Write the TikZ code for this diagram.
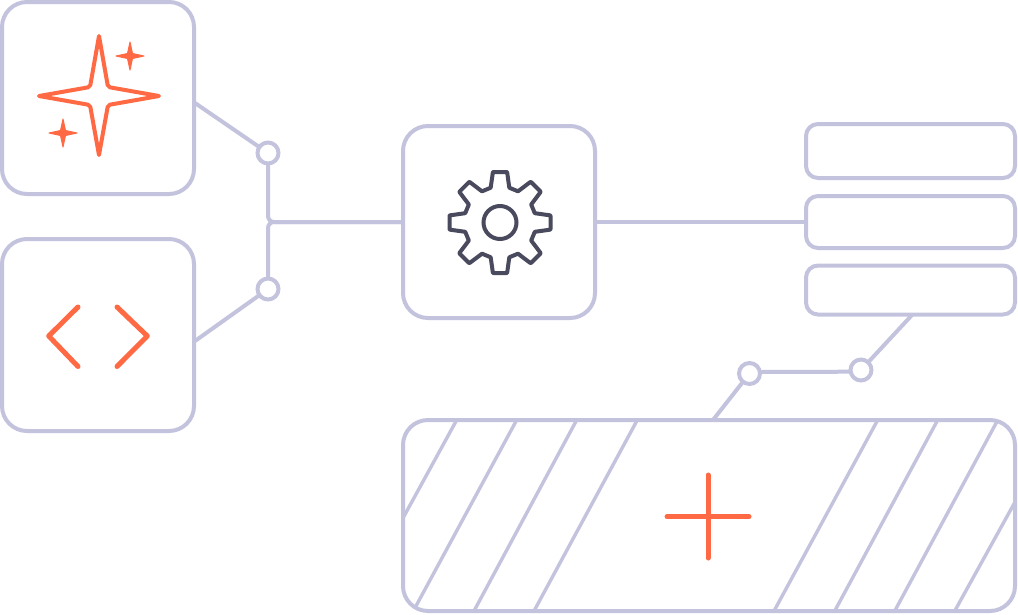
\documentclass[tikz,border=0pt]{standalone}
\definecolor{linecol}{HTML}{C3C3DE}
\definecolor{sparkcol}{HTML}{FF6A45}
\definecolor{gearcol}{HTML}{4A4A5E}
\tikzset{
    panel/.style={draw=linecol, line width=4pt, rounded corners=25pt, inner sep=0, outer sep=0, minimum width=192pt, minimum height=192pt},
    slot/.style={draw=linecol, line width=4pt, rounded corners=12pt, inner sep=0, outer sep=0, minimum width=209pt},
    dot/.style={circle, draw=linecol, line width=4pt, fill=white, inner sep=0, outer sep=0, minimum size=21pt},
    link/.style={draw=linecol, line width=4pt},
    hatch/.style={draw=linecol, line width=3.4pt},
    icon/.style={draw=sparkcol, line width=4pt, line join=round, line cap=round},
    iconthick/.style={draw=sparkcol, line width=5pt, line join=round, line cap=round},
}

\begin{document}
\begin{tikzpicture}[x=1pt, y=-1pt]
\useasboundingbox (0,0) rectangle (1018,614);

\node[panel] (sparkbox) at (98,98) {};
\node[panel] (codebox) at (98,335) {};
\node[panel] (gearbox) at (499,222) {};
\node[slot, minimum height=54pt] (slotA) at (910.5,151) {};
\node[slot, minimum height=52pt] (slotB) at (910.5,222) {};
\node[slot, minimum height=49pt] (slotC) at (910.5,290) {};
\node[panel, minimum width=612pt, minimum height=191pt] (addbox) at (709,515.5) {};

\node[dot] (dotA) at (268,153) {};
\node[dot] (dotB) at (268,289) {};
\node[dot] (dotC) at (749.5,373.5) {};
\node[dot] (dotD) at (861,370) {};

\node[coordinate] (sparkout) at (195,103) {};
\node[coordinate] (codeout) at (195,341) {};
\node[coordinate] (slotout) at (912,315) {};
\node[coordinate] (addout) at (713,420) {};

\draw[link] (sparkout) -- (dotA);
\draw[link] (codeout) -- (dotB);
\draw[link, rounded corners=6pt] (dotA) |- (gearbox.west);
\draw[link, rounded corners=6pt] (dotB) |- (gearbox.west);
\draw[link] (gearbox.east) -- (slotB.west);
\draw[link] (slotout) -- (dotD);
\draw[link] ([yshift=1.5pt]dotC.east) -- ([yshift=-1.7pt]dotD.west);
\draw[link] (dotC) -- (addout);

% stripes of the wide box
\foreach \a/\b/\c/\d in {456.7/420/403/518, 516.7/420/416/606, 576.7/420/474/611, 637.3/420/534/611,
    877.7/420/774/611, 937.7/420/834.7/611, 996.7/422/894.7/611, 1015/502/954.7/611}
    \draw[hatch] (\a,\b) -- (\c,\d);

% sparkles
\draw[icon] (99,36) [rounded corners=2pt] -- (90,87) [sharp corners] -- (39,96) [rounded corners=2pt] -- (90,105) [sharp corners] -- (99,155)
    [rounded corners=2pt] -- (108,105) [sharp corners] -- (159,96) [rounded corners=2pt] -- (108,87) [sharp corners] -- cycle;
\foreach \x/\y in {130/56, 63/133}
    \draw[draw=sparkcol, fill=sparkcol, line width=1pt, line join=round, shift={(\x,\y)}]
        (0,-14) -- (2.5,-2.5) -- (14,0) -- (2.5,2.5) -- (0,14) -- (-2.5,2.5) -- (-14,0) -- (-2.5,-2.5) -- cycle;

% brackets
\draw[iconthick] (78,307) -- (48.7,336) -- (78,366.5);
\draw[iconthick] (117,307) -- (147.3,336) -- (117,366.5);

% gear
\begin{scope}[shift={(500,222.5)}]
\draw[draw=gearcol, line width=4pt, line join=round, rounded corners=.5pt]
    (-8:51) foreach \a in {0,45,...,270} { -- (\a+8:51) -- (\a+15:36) -- (\a+30:36) -- (\a+37:51) }
    -- (323:51) -- (330:36) -- (345:36) -- cycle;
\draw[draw=gearcol, line width=4pt] (0,0) circle (16.5);
\end{scope}

% plus
\draw[iconthick] (708,475) -- (708,558);
\draw[iconthick] (667,516.7) -- (749,516.7);

\end{tikzpicture}
\end{document}
